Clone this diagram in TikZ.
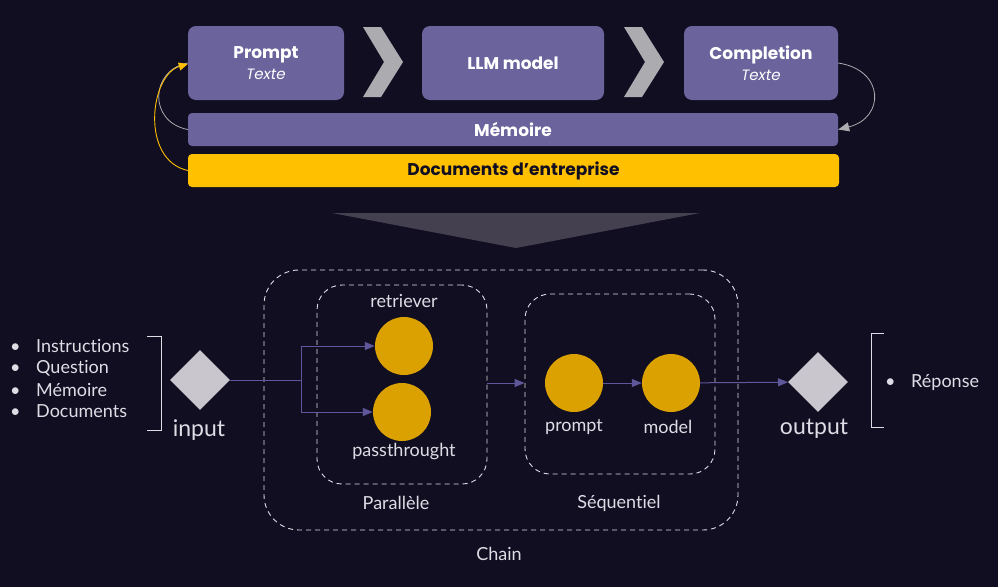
\documentclass[tikz,border=0pt]{standalone}
\usepackage{fontspec}
\setmainfont{Poppins}
\newfontfamily\lblfont{Lato}[Ligatures=NoCommon]
\usetikzlibrary{shapes.geometric, arrows.meta, positioning, calc}

\definecolor{fond}{HTML}{110E22}
\definecolor{violet}{HTML}{6A639C}
\definecolor{jaune}{HTML}{FFC000}
\definecolor{ocre}{HTML}{DBA100}
\definecolor{gris}{HTML}{ABABB0}
\definecolor{clair}{HTML}{DEDCE4}
\definecolor{lien}{HTML}{5E5799}
\definecolor{entonnoir}{HTML}{454050}
\definecolor{losange}{HTML}{C9C7CD}

\tikzset{
  boite/.style={fill=violet, rounded corners=8pt, text=white, align=center,
    font=\fontsize{17}{20}\selectfont, inner sep=0pt},
  barre/.style={rounded corners=4pt, inner sep=0pt, minimum width=650pt, minimum height=33pt,
    font=\fontsize{17}{19}\selectfont\bfseries},
  etiquette/.style={text=clair, inner sep=0pt, font=\lblfont\fontsize{18}{20}\selectfont},
  grand/.style={font=\lblfont\fontsize{23}{25}\selectfont},
  rond/.style={circle, fill=ocre, minimum size=58pt, inner sep=0pt},
  pointe/.style={diamond, fill=losange, minimum size=60pt, inner sep=0pt},
  bloc/.style={draw=clair, dash pattern=on 5pt off 4pt, line width=0.9pt},
  fleche/.style={draw=lien, line width=1pt, -{Triangle[length=10pt, width=8pt]}},
  crochet/.style={draw=clair, line width=0.8pt},
}

\begin{document}
\begin{tikzpicture}[x=1pt, y=-1pt]
  % fond et cadre
  \fill[fond] (0,0) rectangle (998,587);
  \useasboundingbox (0,0) rectangle (998,587);

  % partie haute : les trois etapes
  \node[boite, minimum width=156pt, minimum height=74pt] (prompt) at (266,63)
    {\textbf{Prompt}\\[1pt]{\itshape\fontsize{15}{17}\selectfont Texte}};
  \node[boite, minimum width=182pt, minimum height=74pt] (llm) at (513,63) {\textbf{LLM model}};
  \node[boite, minimum width=154pt, minimum height=74pt] (compl) at (761,63)
    {\textbf{Completion}\\[1pt]{\itshape\fontsize{15}{17}\selectfont Texte}};

  % chevrons
  \fill[gris] (363,27) -- (381,27) -- (403,62) -- (381,97) -- (363,97) -- (384,62) -- cycle;
  \fill[gris] (624,27) -- (642,27) -- (664,62) -- (642,97) -- (624,97) -- (645,62) -- cycle;

  % barres
  \node[barre, fill=violet, text=white] (mem) at (513,129.5) {Mémoire};
  \node[barre, fill=jaune, text=fond, minimum width=651pt] (docs) at (513.5,170.5) {Documents d’entreprise};

  % boucles
  \draw[gris, line width=0.8pt] (mem.west) .. controls (148,122) and (150,70) .. (prompt.west);
  \draw[jaune, line width=0.9pt, -{Triangle[length=9pt, width=8pt]}]
    (docs.west) .. controls (140,160) and (150,75) .. ([yshift=-1pt]prompt.west);
  \draw[gris, line width=0.8pt, -{Triangle[length=11pt, width=9pt]}]
    (compl.east) .. controls (885,70) and (885,118) .. (mem.east);

  % entonnoir
  \fill[entonnoir] (332,213) -- (700,213) -- (516,248) -- cycle;

  % partie basse : la chaine
  \node[bloc, rounded corners=35pt, minimum width=474pt, minimum height=260pt] (chain) at (501,400) {};
  \node[bloc, rounded corners=25pt, minimum width=170pt, minimum height=199pt] (par) at (402,384.5) {};
  \node[bloc, rounded corners=25pt, minimum width=190pt, minimum height=180pt] (seq) at (620,384) {};
  \node[etiquette] (lchain) at (499,554) {Chain};
  \node[etiquette] (lpar) at (396,503) {Parallèle};
  \node[etiquette] (lseq) at (619,503) {Séquentiel};

  \node[rond] (ret) at (404,346) {};
  \node[rond] (pass) at (402,412) {};
  \node[rond] (pr) at (574,383) {};
  \node[rond] (mod) at (671,383) {};
  \node[etiquette] (lret) at (404,301) {retriever};
  \node[etiquette] (lpass) at (404,452) {passthrought};
  \node[etiquette] (lpr) at (574,427) {prompt};
  \node[etiquette] (lmod) at (668,427) {model};

  \node[pointe] (in) at (200,380) {};
  \node[pointe] (out) at (818,382) {};
  \node[etiquette, grand] (lin) at (199,430) {input};
  \node[etiquette, grand] (lout) at (814,429) {output};

  % liens
  \coordinate (fourche) at (301,380);
  \draw[lien, line width=1pt] (in.east) -- (fourche);
  \draw[fleche] (fourche) |- (ret);
  \draw[fleche] (fourche) |- (pass);
  \draw[fleche] (par.east |- pr) -- (seq.west |- pr);
  \draw[fleche] (pr) -- (mod);
  \draw[fleche] (mod) -- (out);

  % entrees et sorties
  \foreach \t [count=\i] in {Instructions, Question, Mémoire, Documents}
    \node[etiquette, anchor=west] (item\i) at (10,324.5+21.7*\i) {\makebox[26pt][l]{\textbullet}\t};
  \draw[crochet] (147,336) -- (161,336) -- (161,430) -- (147,430);
  \node[etiquette, anchor=west] (rep) at (885,383) {\makebox[26pt][l]{\textbullet}Réponse};
  \draw[crochet] (884,333) -- (871,333) -- (871,427) -- (884,427);
\end{tikzpicture}
\end{document}
